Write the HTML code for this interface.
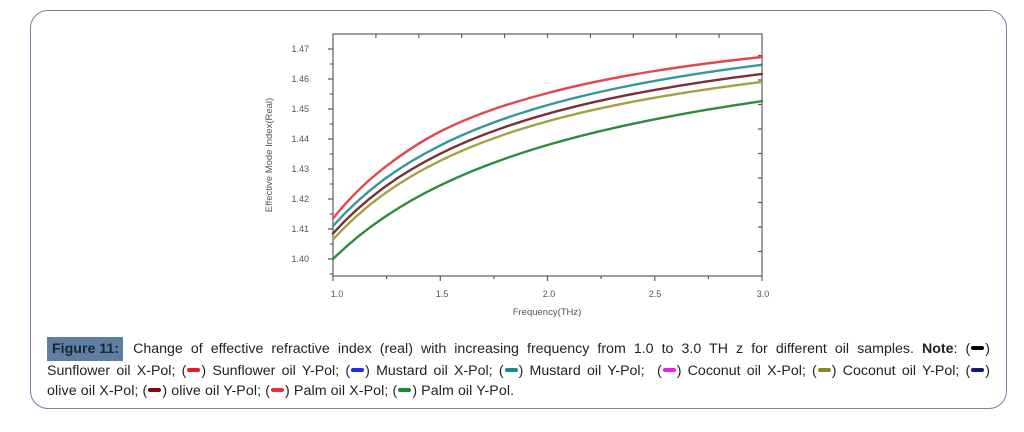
<!DOCTYPE html>
<html><head><meta charset="utf-8">
<style>
html,body{margin:0;padding:0;background:#fff;}
body{width:1024px;height:432px;position:relative;overflow:hidden;font-family:"Liberation Sans",Arial,sans-serif;}
.frame{position:absolute;left:30px;top:10px;width:975px;height:397px;border:1.6px solid #6d86a2;border-radius:18px;}
.cap{position:absolute;left:47px;width:943px;font-size:14.2px;color:#222;line-height:20px;white-space:nowrap;}
.j{text-align:justify;text-align-last:justify;}
.fig{display:inline-block;background:#5f7fa2;color:#1b2633;font-weight:bold;padding:0 4px 0 5px;height:24px;line-height:24px;margin-right:2px;}
.sw{display:inline-block;width:13px;height:4px;border-radius:2px;vertical-align:middle;margin:0 1px;position:relative;top:-1px;}
</style></head>
<body>
<div class="frame"></div>
<svg width="1024" height="432" style="position:absolute;left:0;top:0" xmlns="http://www.w3.org/2000/svg">
<g stroke="#5e5e5e" stroke-width="1.2" fill="none">
<rect x="333" y="34" width="429" height="242"/>
<path d="M328 49H333M328 79H333M328 109H333M328 139H333M328 169H333M328 199H333M328 229H333M328 259H333"/>
<path d="M330 64H333M330 94H333M330 124H333M330 154H333M330 184H333M330 214H333M330 244H333M330 274H333"/>
<path d="M333 276V281M440.3 276V281M547.5 276V281M654.8 276V281M762 276V281"/>
<path d="M386.6 276V279M493.9 276V279M601.1 276V279M708.4 276V279"/>
<path d="M375.9 34V38M418.8 34V38M461.7 34V38M504.6 34V38M547.5 34V38M590.4 34V38M633.3 34V38M676.2 34V38M719.1 34V38"/>
<path d="M758 251.5H762M758 227H762M758 202.5H762M758 178H762M758 153.5H762M758 129H762M758 104.5H762M758 80H762M758 55.5H762"/>
</g>
<g font-family="Liberation Sans, Arial, sans-serif" font-size="9" fill="#555" text-anchor="end">
<text x="309" y="52">1.47</text>
<text x="309" y="82">1.46</text>
<text x="309" y="112">1.45</text>
<text x="309" y="142">1.44</text>
<text x="309" y="172">1.43</text>
<text x="309" y="202">1.42</text>
<text x="309" y="232">1.41</text>
<text x="309" y="262">1.40</text>
</g>
<g font-family="Liberation Sans, Arial, sans-serif" font-size="9" fill="#555" text-anchor="middle">
<text x="337" y="297">1.0</text>
<text x="442" y="297">1.5</text>
<text x="549" y="297">2.0</text>
<text x="655" y="297">2.5</text>
<text x="763" y="297">3.0</text>
<text x="547" y="315" font-size="9.5">Frequency(THz)</text>
<text x="0" y="0" font-size="9.5" transform="translate(272,155) rotate(-90)">Effective Mode Index(Real)</text>
</g>
<g fill="none" stroke-width="2.4" stroke-linejoin="round" stroke-linecap="round">
<path stroke="#2e8a3c" d="M333 259C350.9 241.4 368.7 227.6 386.6 215.7C404.5 203.8 422.4 193.9 440.3 185.3C476 168 511.8 155.45 547.5 145C583.3 134.55 619 126.4 654.8 119.3C690.6 112.2 726.3 106.3 762 101.2"/>
<path stroke="#a3a244" d="M333 239.5C350.9 219.8 368.7 204.8 386.6 192.2C404.5 179.6 422.4 169.5 440.3 160.7C476 143.2 511.8 131.15 547.5 121.3C583.3 111.45 619 104 654.8 97.7C690.6 91.4 726.3 86.3 762 81.9"/>
<path stroke="#7d2e36" d="M333 233.5C350.9 213.55 368.7 198.4 386.6 185.6C404.5 172.8 422.4 162.6 440.3 153.7C476 136 511.8 123.8 547.5 113.8C583.3 103.8 619 96.3 654.8 89.9C690.6 83.5 726.3 78.3 762 73.9"/>
<path stroke="#36979a" d="M333 226C350.9 205.9 368.7 190.5 386.6 177.6C404.5 164.7 422.4 154.4 440.3 145.4C476 127.5 511.8 115.2 547.5 105.1C583.3 95 619 87.35 654.8 80.9C690.6 74.45 726.3 69.3 762 64.8"/>
<path stroke="#e0474e" d="M333 218.5C350.9 196 368.7 179.5 386.6 165.9C404.5 152.3 422.4 140.6 440.3 131.5C476 113.4 511.8 102.6 547.5 93.1C583.3 83.6 619 76.7 654.8 71C690.6 65.3 726.3 60.8 762 57"/>
</g>
</svg>
<div class="cap j" style="top:337px;line-height:24px;"><span class="fig">Figure 11:</span> Change of effective refractive index (real) with increasing frequency from 1.0 to 3.0 TH z for different oil samples. <b>Note</b>: (<span class="sw" style="background:#000"></span>)</div>
<div class="cap j" style="top:361px;">Sunflower oil X-Pol; (<span class="sw" style="background:#e81c24"></span>) Sunflower oil Y-Pol; (<span class="sw" style="background:#1c2ce8"></span>) Mustard oil X-Pol; (<span class="sw" style="background:#1a8a8a"></span>) Mustard oil Y-Pol;&nbsp; (<span class="sw" style="background:#f01cf0"></span>) Coconut oil X-Pol; (<span class="sw" style="background:#8a8a1c"></span>) Coconut oil Y-Pol; (<span class="sw" style="background:#141a78"></span>)</div>
<div class="cap" style="top:381px;letter-spacing:0.1px;">olive oil X-Pol; (<span class="sw" style="background:#7a0c10"></span>) olive oil Y-Pol; (<span class="sw" style="background:#e8303c"></span>) Palm oil X-Pol; (<span class="sw" style="background:#1a8a2a"></span>) Palm oil Y-Pol.</div>
</body></html>
